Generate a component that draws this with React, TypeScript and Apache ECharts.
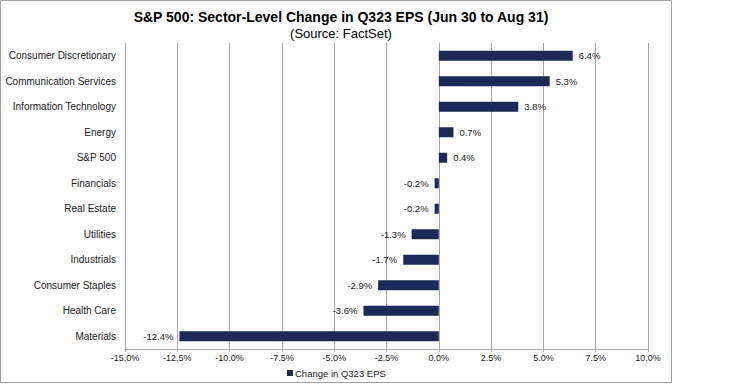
import React, { useEffect, useRef } from "react";
import * as echarts from "echarts";

const categories = [
  "Consumer Discretionary",
  "Communication Services",
  "Information Technology",
  "Energy",
  "S&P 500",
  "Financials",
  "Real Estate",
  "Utilities",
  "Industrials",
  "Consumer Staples",
  "Health Care",
  "Materials",
];
const values = [6.4, 5.3, 3.8, 0.7, 0.4, -0.2, -0.2, -1.3, -1.7, -2.9, -3.6, -12.4];
const seriesName = "Change in Q323 EPS";
const titleText = "S&P 500: Sector-Level Change in Q323 EPS (Jun 30 to Aug 31)";
const subtitleText = "(Source: FactSet)";

const FONT = "Arial, 'Liberation Sans', sans-serif";
const BAR = "#1b2a56";
const GRID = "#a6a6a6";

export default function App() {
  const ref = useRef<HTMLDivElement>(null);
  useEffect(() => {
    if (!ref.current) return;
    const chart = echarts.init(ref.current, null, { renderer: "svg" });
    chart.setOption({
      animation: false,
      backgroundColor: "#ffffff",
      title: {
        text: titleText,
        subtext: subtitleText,
        left: 336,
        top: 5,
        textAlign: "center",
        itemGap: 3,
        textStyle: { fontFamily: FONT, fontSize: 14, fontWeight: "bold", color: "#000" },
        subtextStyle: { fontFamily: FONT, fontSize: 13, color: "#000" },
      },
      graphic: [
        {
          type: "rect",
          shape: { x: 0.5, y: 0.5, width: 671, height: 382 },
          style: { fill: "none", stroke: "#a0a0a0", lineWidth: 1 },
          silent: true,
        },
      ],
      legend: {
        left: 282,
        top: 363,
        icon: "rect",
        itemWidth: 6,
        itemHeight: 6,
        textStyle: { fontFamily: FONT, fontSize: 9.5, color: "#222", padding: [0, 0, 0, -3] },
        data: [seriesName],
      },
      grid: { left: 125, right: 82, top: 43, bottom: 35 },
      xAxis: {
        type: "value",
        min: -15,
        max: 10,
        interval: 2.5,
        axisLine: { show: true, lineStyle: { color: GRID } },
        axisTick: { show: true, length: 3, lineStyle: { color: GRID } },
        splitLine: { show: true, lineStyle: { color: GRID, width: 1 } },
        axisLabel: {
          fontFamily: FONT,
          fontSize: 9,
          color: "#222",
          margin: 4,
          formatter: (v: number) => v.toFixed(1) + "%",
        },
      },
      yAxis: {
        type: "category",
        inverse: true,
        data: categories,
        axisLine: { show: true, lineStyle: { color: GRID } },
        axisTick: { show: false },
        splitLine: { show: false },
        axisLabel: { fontFamily: FONT, fontSize: 10, color: "#222", margin: 9 },
      },
      series: [
        {
          name: seriesName,
          type: "bar",
          barWidth: 10,
          itemStyle: { color: BAR },
          data: values.map((v) => ({
            value: v,
            label: { position: v >= 0 ? "right" : "left" },
          })),
          label: {
            show: true,
            fontFamily: FONT,
            fontSize: 9.5,
            color: "#222",
            distance: 6,
            formatter: (p: any) => p.value.toFixed(1) + "%",
          },
        },
      ],
    });
    return () => chart.dispose();
  }, []);
  return (
    <div
      ref={ref}
      style={{ position: "absolute", left: 0, top: 0, width: 730, height: 384 }}
    />
  );
}
